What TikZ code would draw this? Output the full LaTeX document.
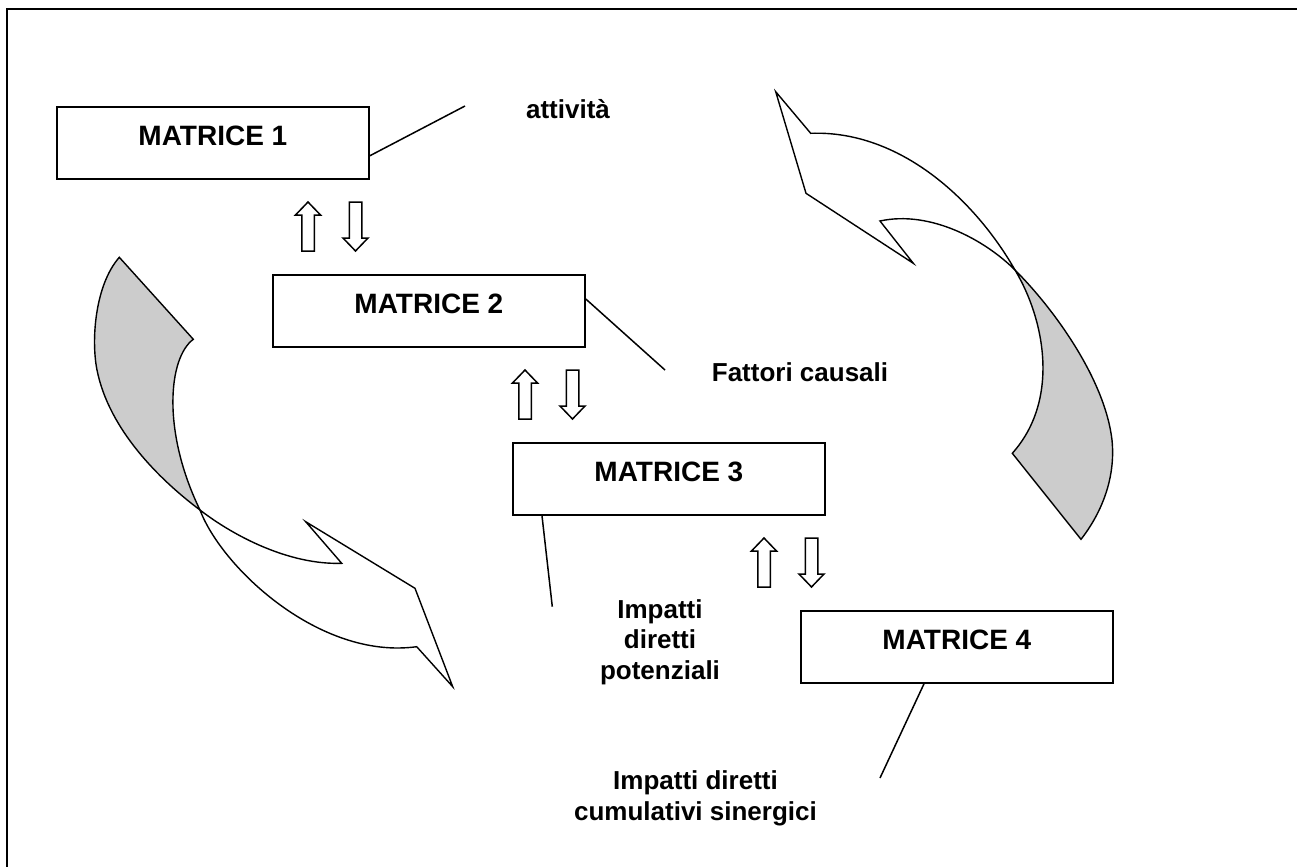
\documentclass[tikz,border=0pt]{standalone}
\usepackage{fontspec}
\setmainfont{Liberation Sans}
\usetikzlibrary{calc}
\definecolor{ribbongray}{RGB}{204,204,204}
\tikzset{
  matrixbox/.style = {draw, line width = 0.9pt, minimum width = 156pt,
    inner xsep = 0pt, inner ysep = 0pt, text height = 19.5pt, text depth = 16.5pt,
    anchor = north west, font = \fontsize{14}{17}\selectfont\bfseries},
  labeltext/.style = {align = center, anchor = base, inner sep = 0pt,
    font = \fontsize{13}{15.25}\selectfont\bfseries},
  ribbon/.style = {draw, line width = 0.7pt},
  blockarrow/.style = {draw, fill = white, line width = 0.75pt},
  leader/.style = {line width = 0.75pt}
}
\begin{document}
\begin{tikzpicture}[x = 0.5pt, y = -0.5pt]
      \useasboundingbox (0, 0) rectangle (1297, 867);
      \draw [line width = 1pt] (7, 867) -- (7, 9) -- (1297, 9);

      \draw [ribbon, fill = white] (775.7, 91.7) -- (810.7, 133.3)
        .. controls (900, 130) and (975, 200) .. (1015, 270)
        .. controls (985, 240) and (930, 210) .. (880, 221)
        -- (913.3, 263.3) -- (806, 193.3) -- cycle;
      \draw [ribbon, fill = ribbongray] (1015, 270)
        .. controls (1045, 320) and (1060, 400) .. (1012.3, 453.3)
        -- (1081, 539.3)
        .. controls (1100, 515) and (1116, 480) .. (1112, 440)
        .. controls (1105, 380) and (1055, 310) .. cycle;

      \draw [ribbon, fill = ribbongray] (119.3, 257.3) -- (193.3, 339.3)
        .. controls (168, 358) and (162, 432) .. (200, 510)
        .. controls (160, 480) and (109, 430) .. (97, 370)
        .. controls (91, 340) and (95, 285) .. cycle;
      \draw [ribbon, fill = white] (200, 510)
        .. controls (235, 537) and (290, 565) .. (341.7, 563.3)
        -- (305.7, 521.7) -- (415, 588.3) -- (452.7, 686.7) -- (416.7, 646.7)
        .. controls (320, 660) and (222, 568) .. cycle;

      \node [matrixbox] (m1) at (56, 106) {MATRICE 1};
      \node [matrixbox] (m2) at (272, 274) {MATRICE 2};
      \node [matrixbox] (m3) at (512, 442) {MATRICE 3};
      \node [matrixbox] (m4) at (800, 610) {MATRICE 4};

      \foreach \ux / \uy in {308/202, 525/370, 764/538} {
        \draw [blockarrow, shift = {(\ux, \uy)}] (0, 0) -- (12.5, 13) -- (6.25, 13)
          -- (6.25, 49) -- (-6.25, 49) -- (-6.25, 13) -- (-12.5, 13) -- cycle;
        \draw [blockarrow, shift = {(\ux + 47.5, \uy)}] (-6.25, 0) -- (6.25, 0)
          -- (6.25, 36) -- (12.5, 36) -- (0, 49) -- (-12.5, 36) -- (-6.25, 36) -- cycle;
      }

      \node [labeltext] (l1) at (568, 118.3) {attività};
      \node [labeltext] (l2) at (800, 381.7) {Fattori causali};
      \node [labeltext] (l3) at (660, 679) {Impatti\\diretti\\potenziali};
      \node [labeltext] (l4) at (695.5, 820) {Impatti diretti\\cumulativi sinergici};

      \coordinate (e1) at (465, 106);
      \coordinate (e2) at (665, 370);
      \coordinate (e3) at (552.3, 606.7);
      \coordinate (e4) at (880, 778);
      \draw [leader] ($(m1.south east) + (0, -24)$) -- (e1);
      \draw [leader] ($(m2.north east) + (0, 25)$) -- (e2);
      \draw [leader] ($(m3.south west) + (30, 0)$) -- (e3);
      \draw [leader] ($(m4.south west) + (124, 0)$) -- (e4);
    \end{tikzpicture}
\end{document}
